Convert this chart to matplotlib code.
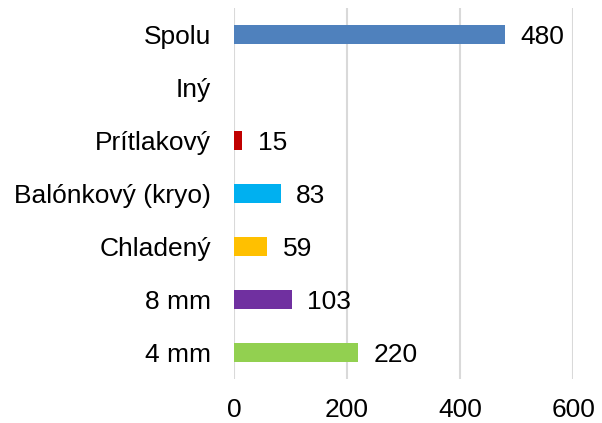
import matplotlib
matplotlib.use("Agg")
import matplotlib.pyplot as plt
import numpy as np

categories = ["Spolu", "Iný", "Prítlakový", "Balónkový (kryo)", "Chladený", "8 mm", "4 mm"]
values = [480, None, 15, 83, 59, 103, 220]
colors = ["#4F81BD", "#FFFFFF", "#C00000", "#00B0F0", "#FFC000", "#7030A0", "#92D050"]
xticks = [0, 200, 400, 600]

plt.rcParams['font.family'] = ['Liberation Sans', 'DejaVu Sans']
FS = 19

fig = plt.figure(figsize=(6.02, 4.23), dpi=100)
ax = fig.add_axes([0.3887, 0.104, 0.952 - 0.3887, 0.877])

n = len(categories)
ypos = np.arange(n)[::-1]
vals = [0 if v is None else v for v in values]
ax.barh(ypos, vals, height=0.36, color=colors, zorder=3)
for y, v in zip(ypos, values):
    if v is None:
        continue
    ax.annotate(str(v), (v, y), xytext=(11, 0), textcoords="offset points",
                ha="left", va="center_baseline", fontsize=FS, color="#000000")

ax.set_xlim(0, 600)
ax.set_ylim(-0.5, n - 0.5)
ax.set_xticks(xticks)
ax.set_xticklabels([str(t) for t in xticks], fontsize=FS)
ax.set_yticks(ypos)
ax.set_yticklabels(categories, fontsize=FS)
ax.tick_params(axis='both', length=0)
ax.tick_params(axis='y', pad=16.5)
ax.tick_params(axis='x', pad=14)
for s in ax.spines.values():
    s.set_visible(False)
ax.grid(axis='x', color='#D9D9D9', linewidth=1.5, zorder=0)
ax.set_axisbelow(True)

fig.savefig("out.png", dpi=100)
